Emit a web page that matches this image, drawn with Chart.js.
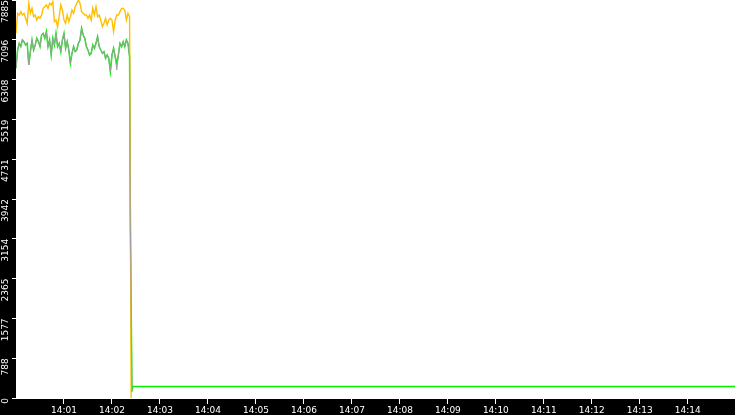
<!DOCTYPE html>
<html>
<head>
<meta charset="utf-8">
<script src="https://cdn.jsdelivr.net/npm/chart.js@4/dist/chart.umd.min.js"></script>
<style>
  html, body { margin: 0; padding: 0; background: #000; }
  #wrap { width: 735px; height: 415px; }
</style>
</head>
<body>
<div id="wrap"><canvas id="chart" width="735" height="415"></canvas></div>
<script>
// samples every 2 s from 14:00:00
const sampleStep = 2;

const orangeValues = [
  7225, 7621, 7588, 7654, 7588, 7621, 7522, 7423, 7819, 7621,
  7720, 7555, 7588, 7489, 7555, 7522, 7588, 7720, 7753, 7786,
  7720, 7819, 7786, 7852, 7456, 7489, 7357, 7555, 7786, 7687,
  7489, 7423, 7588, 7456, 7555, 7687, 7621, 7753, 7819, 7885,
  7819, 7654, 7621, 7588, 7588, 7522, 7588, 7489, 7720, 7588,
  7753, 7555, 7588, 7489, 7357, 7423, 7522, 7390, 7489, 7522,
  7489, 7258, 7489, 7588, 7588, 7654, 7720, 7720, 7687, 7489,
  7621, 7555
];

const greenValues = [
  6532, 6895, 7027, 6961, 7093, 7060, 6994, 7027, 6598, 6862,
  7093, 6895, 6994, 7126, 7060, 6961, 7192, 7225, 7126, 7258,
  6961, 7093, 6796, 7126, 6994, 7225, 6961, 7027, 6862, 7093,
  7225, 6928, 7060, 6895, 6631, 6829, 6961, 6862, 6895, 7027,
  7093, 7324, 7192, 7126, 6961, 6895, 6796, 6829, 6994, 6928,
  7027, 7159, 6961, 6895, 6829, 6862, 6730, 6796, 6730, 6466,
  6796, 6928, 6763, 6631, 6796, 7027, 6961, 7060, 6961, 7093,
  7027, 6763
];

// mostly hidden under the green line
const grayValues = [
  6532, 6895, 7027, 6961, 7093, 7060, 6994, 7027, 6598, 6862,
  7093, 6895, 6994, 7126, 7060, 6961, 7192, 7225, 7126, 7258,
  6961, 7093, 6796, 7126, 6994, 7225, 6961, 7027, 6862, 7093,
  7225, 6928, 7060, 6895, 6631, 6829, 6961, 6862, 6895, 7027,
  7093, 7324, 7192, 7126, 6961, 6895, 6796, 6829, 6994, 6928,
  7027, 7159, 6961, 6895, 6829, 6862, 6730, 6796, 6730, 6466,
  6796, 6928, 6763, 6500, 6796, 7027, 6961, 7060, 6961, 7093,
  7027, 6763
];

// after the drop (seconds from 14:00:00, value)
const orangeTail = [[143, 3800], [144, 0]];
const greenTail = [[143, 3480], [145, 130], [146, 230], [899, 230]];
const grayTail = [[143, 3450], [145, 120]];

const xTickSeconds = [60, 120, 180, 240, 300, 360, 420, 480, 540, 600, 660, 720, 780, 840];
const xTickLabels = ['14:01', '14:02', '14:03', '14:04', '14:05', '14:06', '14:07',
                     '14:08', '14:09', '14:10', '14:11', '14:12', '14:13', '14:14'];
const yTicks = [0, 788.5, 1577, 2365.5, 3154, 3942.5, 4731, 5519.5, 6308, 7096.5, 7885];

function toPoints(values, tail) {
  const pts = values.map(function (v, i) { return { x: i * sampleStep, y: v }; });
  tail.forEach(function (p) { pts.push({ x: p[0], y: p[1] }); });
  return pts;
}

const whiteArea = {
  id: 'whiteArea',
  beforeDraw: function (chart) {
    const c = chart.ctx, a = chart.chartArea;
    c.save();
    c.fillStyle = '#000';
    c.fillRect(0, 0, chart.width, chart.height);
    c.fillStyle = '#fff';
    c.fillRect(a.left, a.top, a.right - a.left, a.bottom - a.top);
    c.restore();
  }
};

const font = { family: 'DejaVu Sans', size: 9 };

const config = {
  type: 'line',
  data: {
    datasets: [
      {
        label: 'gray',
        data: toPoints(grayValues, grayTail),
        borderColor: '#a0a0a0',
        borderWidth: 1,
        pointRadius: 0,
        fill: false
      },
      {
        label: 'orange',
        data: toPoints(orangeValues, orangeTail),
        borderColor: '#ffbf00',
        borderWidth: 1.4,
        pointRadius: 0,
        fill: false
      },
      {
        label: 'green',
        data: toPoints(greenValues, greenTail),
        borderColor: '#00f000',
        borderWidth: 1.5,
        pointRadius: 0,
        fill: false
      }
    ]
  },
  options: {
    responsive: false,
    animation: false,
    devicePixelRatio: 1,
    layout: { padding: 0 },
    plugins: { legend: { display: false }, tooltip: { enabled: false } },
    scales: {
      x: {
        type: 'linear',
        min: 0,
        max: 899,
        afterBuildTicks: function (scale) {
          scale.ticks = xTickSeconds.map(function (s) { return { value: s }; });
        },
        afterFit: function (scale) {
          scale.height = 17;
          scale.paddingLeft = 0;
          scale.paddingRight = 0;
        },
        grid: { drawOnChartArea: false, color: '#fff', tickLength: 6 },
        border: { display: true, color: '#fff', width: 1 },
        ticks: {
          color: '#fff',
          font: font,
          padding: 1,
          maxRotation: 0,
          autoSkip: false,
          callback: function (v) {
            const i = xTickSeconds.indexOf(v);
            return i >= 0 ? xTickLabels[i] : '';
          }
        }
      },
      y: {
        min: 0,
        max: 7885,
        afterBuildTicks: function (scale) {
          scale.ticks = yTicks.map(function (v) { return { value: v }; });
        },
        afterFit: function (scale) {
          scale.width = 16;
          scale.paddingTop = 0;
          scale.paddingBottom = 0;
        },
        grid: { drawOnChartArea: false, color: '#fff', tickLength: 4 },
        border: { display: false },
        ticks: {
          color: '#fff',
          font: font,
          padding: 6,
          minRotation: 90,
          maxRotation: 90,
          autoSkip: false,
          callback: function (v) { return String(Math.floor(v)); }
        }
      }
    }
  },
  plugins: [whiteArea]
};

const chart = new Chart('chart', config);
</script>
</body>
</html>
